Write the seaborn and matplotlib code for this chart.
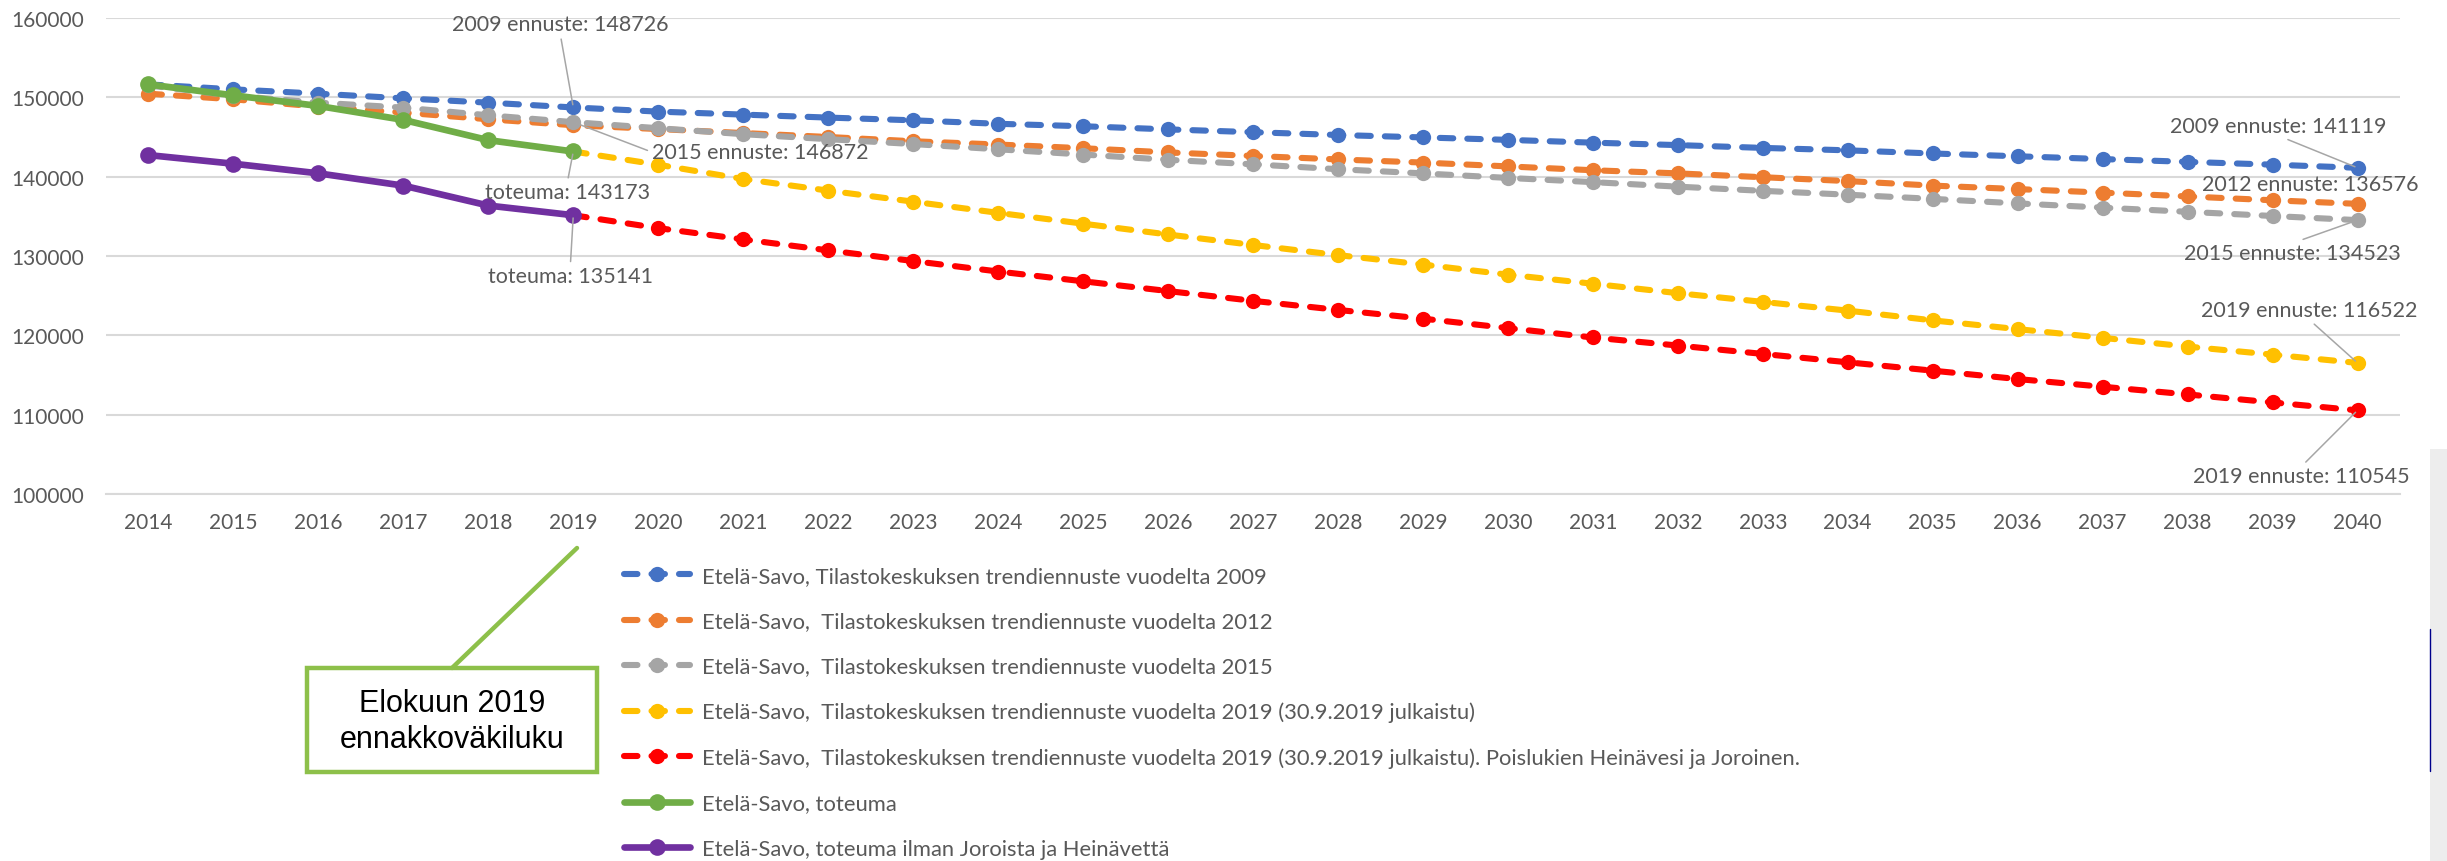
import matplotlib
matplotlib.use("Agg")
import matplotlib.pyplot as plt
import numpy as np
import seaborn as sns
from matplotlib.lines import Line2D
from matplotlib.patches import Rectangle

W, H = 2447, 862

years = list(range(2014, 2041))
years_fc19 = list(range(2019, 2041))
years_act = list(range(2014, 2020))

fc2009 = [151632, 151004, 150460, 149874, 149331, 148726, 148201, 147824, 147448,
          147104, 146665, 146356, 145960, 145607, 145255, 144947, 144639, 144287,
          143979, 143627, 143319, 142923, 142570, 142218, 141866, 141514, 141119]
fc2012 = [150460, 149749, 148828, 148075, 147238, 146485, 146000, 145500, 145000,
          144463, 144050, 143583, 143055, 142614, 142174, 141778, 141294, 140810,
          140414, 139930, 139445, 138873, 138433, 137993, 137509, 137025, 136576]
fc2015 = [151500, 150200, 149331, 148703, 147741, 146872, 146109, 145356, 144728,
          144111, 143451, 142790, 142130, 141558, 140942, 140414, 139842, 139313,
          138741, 138213, 137729, 137201, 136629, 136100, 135572, 135044, 134523]
fc2019 = [143173, 141506, 139707, 138243, 136849, 135440, 134076, 132711, 131391,
          130114, 128926, 127650, 126505, 125317, 124217, 123116, 121884, 120783,
          119683, 118583, 117570, 116522]
fc2019_excl = [135141, 133515, 132092, 130711, 129366, 128046, 126813, 125581, 124349,
               123204, 122104, 120915, 119727, 118715, 117658, 116602, 115546, 114489,
               113521, 112553, 111540, 110545]
actual = [151632, 150251, 148912, 147155, 144603, 143173]
actual_excl = [142720, 141632, 140418, 138870, 136360, 135141]

labels = [
    "Etelä-Savo, Tilastokeskuksen trendiennuste vuodelta 2009",
    "Etelä-Savo,  Tilastokeskuksen trendiennuste vuodelta 2012",
    "Etelä-Savo,  Tilastokeskuksen trendiennuste vuodelta 2015",
    "Etelä-Savo,  Tilastokeskuksen trendiennuste vuodelta 2019 (30.9.2019 julkaistu)",
    "Etelä-Savo,  Tilastokeskuksen trendiennuste vuodelta 2019 (30.9.2019 julkaistu). Poislukien Heinävesi ja Joroinen.",
    "Etelä-Savo, toteuma",
    "Etelä-Savo, toteuma ilman Joroista ja Heinävettä",
]
colors = ["#4472C4", "#ED7D31", "#A5A5A5", "#FFC000", "#FF0000", "#70AD47", "#7030A0"]

sns.set_theme(style="white")
plt.rcParams["font.family"] = ["Lato", "DejaVu Sans"]
TXT = "#595959"

fig = plt.figure(figsize=(W / 100, H / 100), dpi=100)
ax = fig.add_axes([106 / W, 1 - 495 / H, (2400 - 106) / W, (495 - 19) / H])

series = [
    (years, fc2009, True),
    (years, fc2012, True),
    (years, fc2015, True),
    (years_fc19, fc2019, True),
    (years_fc19, fc2019_excl, True),
    (years_act, actual, False),
    (years_act, actual_excl, False),
]
for (xs, ys, dashed), color, label in zip(series, colors, labels):
    if dashed:
        sns.lineplot(x=xs, y=ys, ax=ax, color=color, label=label, linewidth=4.4,
                     linestyle=(0, (2.2, 2.3)), dash_capstyle="round",
                     marker="o", markersize=11, markeredgewidth=0)
    else:
        sns.lineplot(x=xs, y=ys, ax=ax, color=color, label=label, linewidth=4.8,
                     solid_capstyle="round", marker="o", markersize=12,
                     markeredgewidth=0)

ax.set_xlim(2013.5, 2040.5)
ax.set_ylim(100000, 160000)
ax.set_xticks(years)
ax.set_yticks(np.arange(100000, 160001, 10000))
ax.set_xlabel("")
ax.set_ylabel("")
ax.set_axisbelow(True)
ax.yaxis.grid(True, color="#D9D9D9", linewidth=1.5)
ax.xaxis.grid(False)
for side in ["top", "left", "right"]:
    ax.spines[side].set_visible(False)
ax.spines["bottom"].set_color("#D9D9D9")
ax.spines["bottom"].set_linewidth(1.5)
ax.tick_params(axis="x", length=0, pad=13, labelsize=15, labelcolor=TXT)
ax.tick_params(axis="y", length=0, pad=16, labelsize=15, labelcolor=TXT)

# data labels: (year, value, text prefix, offset px, leader relpos)
point_labels = [
    (2019, fc2009[5], "2009 ennuste", (-13, 83), (0.5, 0)),
    (2019, fc2015[5], "2015 ennuste", (187, -30), (0, 0.5)),
    (2019, actual[-1], "toteuma", (-6, -41), (0.5, 1)),
    (2019, actual_excl[-1], "toteuma", (-3, -61), (0.5, 1)),
    (2040, fc2009[-1], "2009 ennuste", (-79, 42), (0.5, 0)),
    (2040, fc2012[-1], "2012 ennuste", (-47, 20), None),
    (2040, fc2015[-1], "2015 ennuste", (-65, -33), (0.5, 1)),
    (2040, fc2019[-1], "2019 ennuste", (-48, 53), (0.5, 0)),
    (2040, fc2019_excl[-1], "2019 ennuste", (-56, -66), (0.5, 1)),
]
for yr, val, prefix, off, rel in point_labels:
    arrow = None
    if rel is not None:
        arrow = dict(arrowstyle="-", color="#A6A6A6", lw=1.1, relpos=rel,
                     shrinkA=1, shrinkB=2)
    ax.annotate(f"{prefix}: {val}", xy=(yr, val), xytext=off,
                textcoords="offset pixels", ha="center", va="center",
                fontsize=15.5, color=TXT, arrowprops=arrow,
                annotation_clip=False, zorder=6)

leg = ax.legend(loc="upper left", bbox_to_anchor=(624 / W, 1 - 567 / H),
                bbox_transform=fig.transFigure, frameon=False, fontsize=15.8,
                handlelength=3.0, handletextpad=0.55, labelspacing=1.15,
                borderpad=0, borderaxespad=0, numpoints=1)
for t in leg.get_texts():
    t.set_color(TXT)

# call-out box for the August 2019 preliminary figure
green = "#8DC04A"
fig.add_artist(Line2D([452 / W, 577 / W], [1 - 669 / H, 1 - 549 / H],
                      transform=fig.transFigure, color=green, linewidth=3.2))
fig.add_artist(Rectangle((307 / W, 1 - 773 / H), 290 / W, 104 / H,
                         transform=fig.transFigure, facecolor="white",
                         edgecolor=green, linewidth=3.2))
fig.text(452 / W, 1 - 722 / H, "Elokuun 2019\nennakkoväkiluku", ha="center",
         va="center", fontsize=22, color="black", linespacing=1.25,
         family=["Liberation Sans", "DejaVu Sans"])

# edge of neighbouring slide at the right border
fig.add_artist(Rectangle((2430 / W, 0), 17 / W, 1 - 450 / H,
                         transform=fig.transFigure, facecolor="#EDEDED",
                         edgecolor="none"))
fig.add_artist(Line2D([2430 / W, 2430 / W], [1 - 772 / H, 1 - 630 / H],
                      transform=fig.transFigure, color="#00008B", linewidth=1))

fig.savefig("out.png", dpi=100)
